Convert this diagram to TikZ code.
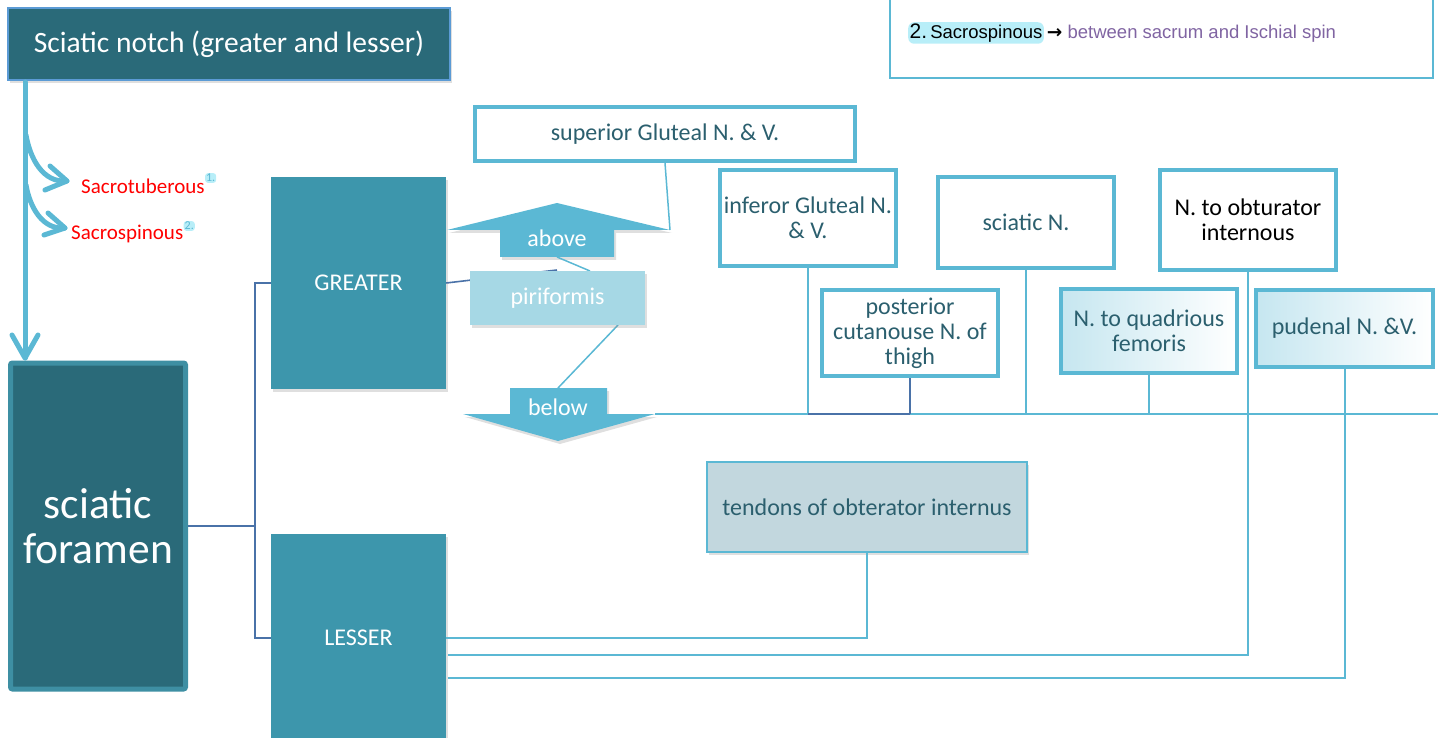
\documentclass[tikz,border=0pt]{standalone}
\usepackage{fontspec}
\setmainfont{Carlito}
\newfontfamily\arialf{Liberation Sans}
\newfontfamily\dejavuf{DejaVu Sans}
\usetikzlibrary{arrows.meta,shadows,calc}
\definecolor{darkteal}{HTML}{2A6A79}
\definecolor{midteal}{HTML}{3D96AC}
\definecolor{lblue}{HTML}{5BB8D4}
\definecolor{paleblue}{HTML}{A6D8E5}
\definecolor{txtteal}{HTML}{2B5F6E}
\definecolor{dblue}{HTML}{4A72A8}
\definecolor{tendfill}{HTML}{C2D7DE}
\definecolor{notchborder}{HTML}{5B9BD5}
\definecolor{forborder}{HTML}{3E8FA3}
\definecolor{purp}{HTML}{8064A2}
\definecolor{glow}{HTML}{B8EEF8}
\tikzset{
  fs/.style n args={2}{font=\fontsize{#1}{#2}\selectfont},
  shd/.style={drop shadow={opacity=0.25,shadow xshift=2pt,shadow yshift=-3pt}},
  solidbox/.style={rectangle,fill=midteal,text=white,inner sep=0pt,shd},
  whitebox/.style={rectangle,draw=lblue,line width=4pt,fill=white,text=txtteal,align=center,inner sep=0pt,fs={24}{25}},
  lc/.style={draw=lblue,line width=2pt},
  dc/.style={draw=dblue,line width=1.6pt},
  thickarrow/.style={draw=lblue,line width=5pt,line cap=round,line join=round},
}
\begin{document}
\begin{tikzpicture}[x=1pt,y=-1pt]
\useasboundingbox (0,0) rectangle (1438,738);

% top-right note box
\draw[lblue,line width=2pt] (890,-10) rectangle (1433,78);
\node[anchor=west,inner sep=0pt,font=\arialf\fontsize{18.5}{21}\selectfont] (note) at (908,33)
  {\tikz[baseline=(g.base)]\node[fill=glow,rounded corners=6pt,inner sep=1.5pt](g){\fontsize{21}{23}\selectfont 2.\fontsize{18.5}{21}\selectfont\,Sacrospinous};\,{\dejavuf\bfseries →}\ \textcolor{purp}{between sacrum and Ischial spin}};

% Sciatic notch box
\node[rectangle,fill=darkteal,draw=notchborder,line width=1.5pt,minimum width=442pt,minimum height=72pt,text=white,fs={29.5}{34},shd] (notch) at (229,44) {\raisebox{5pt}{Sciatic notch (greater and lesser)}};

% sciatic foramen box
\node[rectangle,fill=darkteal,draw=forborder,line width=5pt,rounded corners=2pt,minimum width=175pt,minimum height=326pt,text=white,align=center,fs={43.5}{45}] (foramen) at (98,526) {sciatic\\foramen};

% vertical thick arrow and branches
\coordinate (vtop) at (25,82);
\coordinate (vbot) at (25,358);
\draw[thickarrow] (vtop) -- (vbot);
\draw[thickarrow] (12,335) -- (vbot) -- (38,335);
\coordinate (b1) at (67,181);
\coordinate (b2) at (65,228);
\draw[thickarrow] (26,135) to[out=-80,in=185] (b1);
\draw[thickarrow] (50,166) -- (b1) -- (45,190);
\draw[thickarrow] (26,185) to[out=-80,in=185] (b2);
\draw[thickarrow] (48,213) -- (b2) -- (44,235);

% red labels
\node[anchor=west,inner sep=0pt,text=red,fs={21}{23}] (st) at (81,186) {Sacrotuberous};
\node[anchor=west,inner sep=1pt,fill=glow,rounded corners=3pt,text=lblue,fs={12}{13}] (st1) at (st.east) [yshift=8pt] {1.};
\node[anchor=west,inner sep=0pt,text=red,fs={21}{23}] (ss) at (71,234) {Sacrospinous};
\node[anchor=west,inner sep=1pt,fill=glow,rounded corners=3pt,text=lblue,fs={12}{13}] (ss1) at (ss.east) [yshift=8pt] {2.};

% GREATER / LESSER
\node[solidbox,minimum width=175pt,minimum height=212pt,fs={24}{26}] (greater) at (358.5,283) {GREATER};
\node[solidbox,minimum width=175pt,minimum height=208pt,fs={24}{26}] (lesser) at (358.5,638) {LESSER};

% fork connector
\coordinate (fork) at (255,526);
\draw[dc] (foramen.east) -- (fork);
\draw[dc] (greater.west) -| (fork) |- (lesser.west);

% above arrow
\coordinate (aboveR) at (670,230);
\coordinate (aboveB) at (557,257);
\fill[lblue,shd] (447,230) -- (557,203) -- (aboveR) -- (614,230) -- (614,257) -- (500,257) -- (500,230) -- cycle;
\node[text=white,fs={24}{26},inner sep=0pt] (above) at (557,238) {above};

% below arrow
\coordinate (belowR) at (655,414);
\coordinate (belowT) at (558,388);
\fill[lblue,shd] (510,388) -- (607,388) -- (607,414) -- (belowR) -- (558,441) -- (463,414) -- (510,414) -- cycle;
\node[text=white,fs={24}{26},inner sep=0pt] (below) at (558,407) {below};

% superior gluteal
\node[whitebox,minimum width=380pt,minimum height=54pt] (superior) at (665,134) {superior Gluteal N. \& V.};
\draw[lblue,line width=1.5pt] (superior.south) -- (aboveR);

% lines behind piriformis
\coordinate (pirT) at (590,271);
\coordinate (pirH) at (557,270);
\coordinate (pirB) at (618,325);
\draw[dc] (greater.east) -- (pirH);
\draw[lblue,line width=1.5pt] (aboveB) -- (pirT);
\draw[lblue,line width=1.5pt] (pirB) -- (belowT);
\node[rectangle,fill=paleblue,text=white,minimum width=175pt,minimum height=54pt,fs={24}{26},shd] (piri) at (557.5,298) {piriformis};

% main horizontal line
\coordinate (edgeR) at (1438,414);
\draw[lc] (belowR) -- (edgeR);

% nerve boxes
\node[whitebox,minimum width=176pt,minimum height=96pt] (inferior) at (808,218) {inferor Gluteal N.\\\& V.};
\node[whitebox,minimum width=176pt,minimum height=91pt] (sciaticN) at (1026,222.5) {sciatic N.};
\node[whitebox,minimum width=176pt,minimum height=100pt,text=black] (obturator) at (1248,220) {N. to obturator\\internous};
\node[whitebox,minimum width=176pt,minimum height=86pt] (posterior) at (910,333) {posterior\\cutanouse N. of\\thigh};
\node[whitebox,minimum width=176pt,minimum height=84pt,left color=lblue!35,middle color=white,right color=white] (quadr) at (1149,331) {N. to quadrious\\femoris};
\node[whitebox,minimum width=177pt,minimum height=77pt,left color=lblue!35,middle color=white,right color=white] (pudenal) at (1344.5,328.5) {pudenal N. \&V.};

\draw[lc] (inferior.south) -- (inferior.south |- belowR);
\draw[dc] (posterior.south) -- (posterior.south |- belowR);
\draw[dc] (inferior.south |- belowR) -- (posterior.south |- belowR);
\draw[lc] (sciaticN.south) -- (sciaticN.south |- belowR);
\draw[lc] (quadr.south) -- (quadr.south |- belowR);

% tendons
\node[rectangle,fill=tendfill,draw=lblue,line width=2pt,minimum width=320pt,minimum height=90pt,text=txtteal,fs={24}{26},shd] (tendons) at (867,507) {tendons of obterator internus};

% lower connectors to LESSER
\coordinate (l2) at (448,655);
\coordinate (l3) at (448,678);
\draw[lc] (tendons.south) |- (lesser.east);
\draw[lc] (obturator.south) |- (l2);
\draw[lc] (pudenal.south) |- (l3);
\end{tikzpicture}
\end{document}
